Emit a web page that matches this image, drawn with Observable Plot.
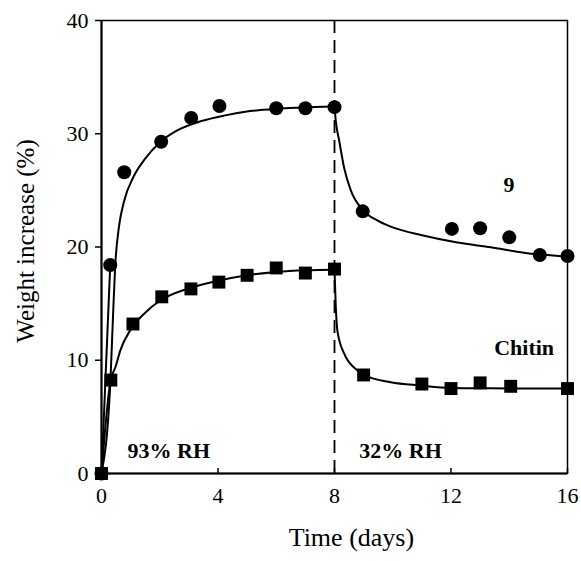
<!DOCTYPE html>
<html>
<head>
<meta charset="utf-8">
<script src="https://cdn.jsdelivr.net/npm/d3@7"></script>
<script src="https://cdn.jsdelivr.net/npm/@observablehq/plot@0.6"></script>
<style>
  html, body { margin: 0; padding: 0; background: #fff; }
</style>
</head>
<body>
<div id="chart"></div>
<script>
// Measured points (circles = sample "9", squares = Chitin)
const circleTime   = [0, 0.3, 0.78, 2.05, 3.08, 4.05, 6, 7, 8, 8.97, 12.03, 13, 14, 15.05, 16];
const circleWeight = [0, 18.4, 26.6, 29.3, 31.4, 32.45, 32.25, 32.25, 32.35, 23.15, 21.6, 21.65, 20.85, 19.3, 19.2];
const squareTime   = [0, 0.32, 1.08, 2.07, 3.07, 4.03, 5, 6, 7, 8, 9, 11, 12, 13, 14.05, 16];
const squareWeight = [0, 8.25, 13.2, 15.6, 16.3, 16.9, 17.5, 18.15, 17.7, 18.05, 8.7, 7.9, 7.5, 8.0, 7.7, 7.5];

// Fitted curves (rise at 93% RH, then fall at 32% RH)
const circleRiseTime   = [0, 0.31, 0.4, 0.48, 0.6, 0.77, 1.1, 1.5, 2.03, 2.6, 3.4, 4.2, 5.1, 6, 6.8, 8];
const circleRiseWeight = [0, 8.4, 14.2, 18.7, 21.8, 24.0, 26.2, 27.8, 29.3, 30.3, 31.1, 31.6, 32.0, 32.2, 32.3, 32.4];
const circleFallTime   = [8, 8.05, 8.16, 8.33, 8.56, 8.96, 9.5, 9.93, 11.08, 12.22, 13.37, 14.5, 15, 16];
const circleFallWeight = [32.4, 31.0, 29.4, 27.0, 25.0, 23.3, 22.3, 21.8, 21.0, 20.4, 19.97, 19.5, 19.35, 19.15];
const squareRiseTime   = [0, 0.31, 0.48, 0.65, 1.0, 1.5, 2.03, 2.94, 3.97, 5, 6, 7, 8];
const squareRiseWeight = [0, 8.2, 9.4, 10.9, 12.7, 14.2, 15.3, 16.3, 17.0, 17.5, 17.8, 17.95, 18.0];
const squareFallTime   = [8, 8.04, 8.1, 8.33, 8.79, 9, 9.93, 10.96, 11.99, 13.37, 14.5, 16];
const squareFallWeight = [18.0, 15.0, 12.6, 10.6, 9.1, 8.7, 8.06, 7.77, 7.56, 7.52, 7.5, 7.5];

const xTicks = [0, 4, 8, 12, 16];
const yTicks = [0, 10, 20, 30, 40];
const switchDay = [8];

const annotationText = ["9", "Chitin", "93% RH", "32% RH"];
const annotationX    = [13.99, 14.51, 2.31, 10.27];
const annotationY    = [25.5, 11.1, 2.03, 2.03];

const xTitle = "Time (days)";
const yTitle = "Weight increase (%)";

const zip = (ts, ws) => ts.map((t, i) => ({t, w: ws[i]}));
const circles = zip(circleTime, circleWeight);
const squares = zip(squareTime, squareWeight);
const fits = [
  zip(circleRiseTime, circleRiseWeight),
  zip(circleFallTime, circleFallWeight),
  zip(squareRiseTime, squareRiseWeight),
  zip(squareFallTime, squareFallWeight)
];
const connector = circles.slice(0, 2);
const annotations = annotationText.map((s, i) => ({s, x: annotationX[i], y: annotationY[i]}));

const chart = Plot.plot({
  width: 581,
  height: 561,
  marginLeft: 101,
  marginRight: 14,
  marginTop: 20,
  marginBottom: 88,
  style: {fontFamily: "'Liberation Serif', 'Times New Roman', serif", fontSize: "22px", color: "#000", background: "#fff"},
  x: {domain: [0, 16]},
  y: {domain: [0, 40]},
  marks: [
    Plot.frame({stroke: "#000", strokeWidth: 1.5}),
    Plot.axisY({ticks: yTicks, tickSize: 6, tickPadding: 7, label: null, strokeWidth: 1.5, fontSize: 22}),
    Plot.axisX({ticks: xTicks, tickSize: -5, tickPadding: 19, label: null, strokeWidth: 1.5, fontSize: 22}),
    Plot.ruleY([0], {stroke: "#000", strokeWidth: 2}),
    Plot.ruleX([0], {stroke: "#000", strokeWidth: 2}),
    Plot.ruleX(switchDay, {stroke: "#000", strokeWidth: 1.8, strokeDasharray: "13,7"}),
    Plot.line(connector, {x: "t", y: "w", stroke: "#000", strokeWidth: 2}),
    ...fits.map(f => Plot.line(f, {x: "t", y: "w", stroke: "#000", strokeWidth: 2, curve: "monotone-x"})),
    Plot.dot(circles, {x: "t", y: "w", r: 7, fill: "#000", stroke: null}),
    Plot.dot(squares, {x: "t", y: "w", r: 7.3, symbol: "square", fill: "#000", stroke: null}),
    Plot.text(annotations, {x: "x", y: "y", text: "s", fontWeight: "bold", fontSize: 22, fill: "#000"}),
    Plot.text([xTitle], {x: 8.58, frameAnchor: "bottom", dy: 72, fontSize: 26, fill: "#000"}),
    Plot.text([yTitle], {frameAnchor: "left", textAnchor: "middle", rotate: -90, dx: -76, dy: -6, fontSize: 25, fill: "#000"})
  ]
});
document.getElementById("chart").appendChild(chart);
</script>
</body>
</html>
